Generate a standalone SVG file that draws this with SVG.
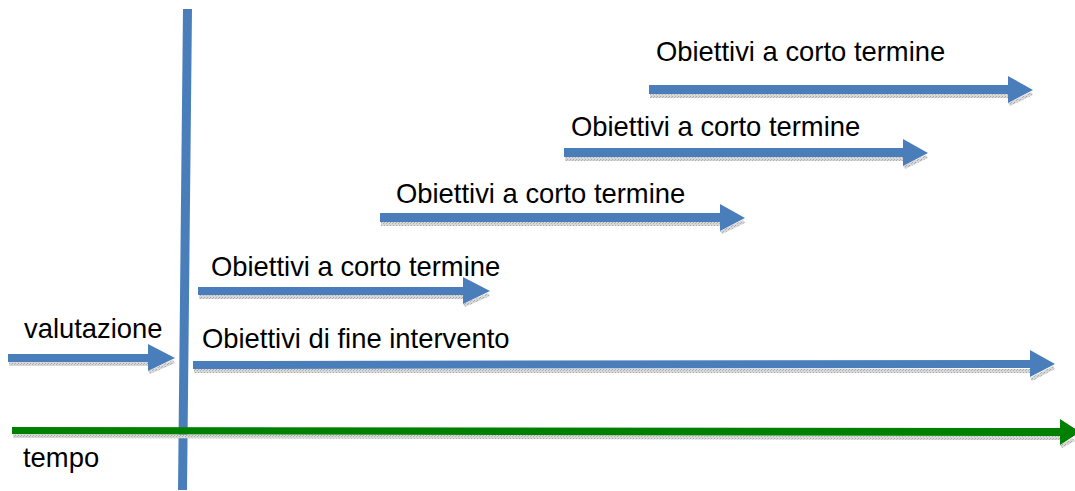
<svg xmlns="http://www.w3.org/2000/svg" width="1075" height="491" viewBox="0 0 1075 491">
<style>
text{font-family:"Liberation Sans",Arial,sans-serif;font-size:27.4px;fill:#000}
.blue{fill:#4a7ebb}
.green{fill:#008000}
</style>
<defs>
<pattern id="dots" width="3" height="3" patternUnits="userSpaceOnUse">
<rect width="3" height="3" fill="#d8d8d8"/>
<rect width="1" height="1" fill="#a8a8a8"/>
<rect x="2" y="1" width="1" height="1" fill="#b0b0b0"/>
</pattern>
</defs>
<rect width="1075" height="491" fill="#fff"/>
<g id="connectors">
<g id="vertical">
<polygon class="blue" points="183,9 192,9 187,490 178,490"/>
</g>
<g id="arrow1">
<polygon fill="url(#dots)" points="650,94 1010,94 1010,98 650,98"/>
<polygon fill="url(#dots)" points="1008,103 1031,92 1033,95 1010,106"/>
<polygon class="blue" points="649,85 1008,85 1008,76 1033,90 1008,103 1008,94 649,94"/>
</g>
<g id="arrow2">
<polygon fill="url(#dots)" points="565,157 905,157 905,161 565,161"/>
<polygon fill="url(#dots)" points="903,166 926,155 928,158 905,169"/>
<polygon class="blue" points="564,148 903,148 903,139 928,153 903,166 903,157 564,157"/>
</g>
<g id="arrow3">
<polygon fill="url(#dots)" points="381,222 722,222 722,226 381,226"/>
<polygon fill="url(#dots)" points="720,231 743,220 745,223 722,234"/>
<polygon class="blue" points="380,213 720,213 720,204 745,218 720,231 720,222 380,222"/>
</g>
<g id="arrow4">
<polygon fill="url(#dots)" points="199,295 465,295 465,299 199,299"/>
<polygon fill="url(#dots)" points="463,304 488,293 490,296 465,307"/>
<polygon class="blue" points="198,287 463,287 463,277 490,291 463,304 463,295 198,295"/>
</g>
<g id="arrow-valutazione">
<polygon fill="url(#dots)" points="9,362 150,362 150,366 9,366"/>
<polygon fill="url(#dots)" points="148,371 173,360 175,363 150,374"/>
<polygon class="blue" points="8,354 148,354 148,344 175,358 148,371 148,362 8,362"/>
</g>
<g id="arrow-fine">
<polygon fill="url(#dots)" points="194,369 1032,369 1032,373 194,373"/>
<polygon fill="url(#dots)" points="1030,378 1053,366 1055,369 1032,381"/>
<polygon class="blue" points="193,361 1030,360 1030,350 1055,364 1030,377 1030,368 193,369"/>
</g>
<g id="arrow-tempo">
<polygon fill="url(#dots)" points="13,434 1062,436 1062,440 13,438"/>
<polygon fill="url(#dots)" points="1060,445 1073,438 1075,441 1062,448"/>
<polygon class="green" points="12,427 1060,428 1060,419 1080,432 1060,445 1060,436 12,434"/>
</g>
</g>
<g id="labels">
<text x="656" y="61">Obiettivi a corto termine</text>
<text x="571" y="136">Obiettivi a corto termine</text>
<text x="396" y="203">Obiettivi a corto termine</text>
<text x="211" y="276">Obiettivi a corto termine</text>
<text x="202" y="348">Obiettivi di fine intervento</text>
<text x="24" y="338">valutazione</text>
<text x="23" y="467">tempo</text>
</g>
</svg>
